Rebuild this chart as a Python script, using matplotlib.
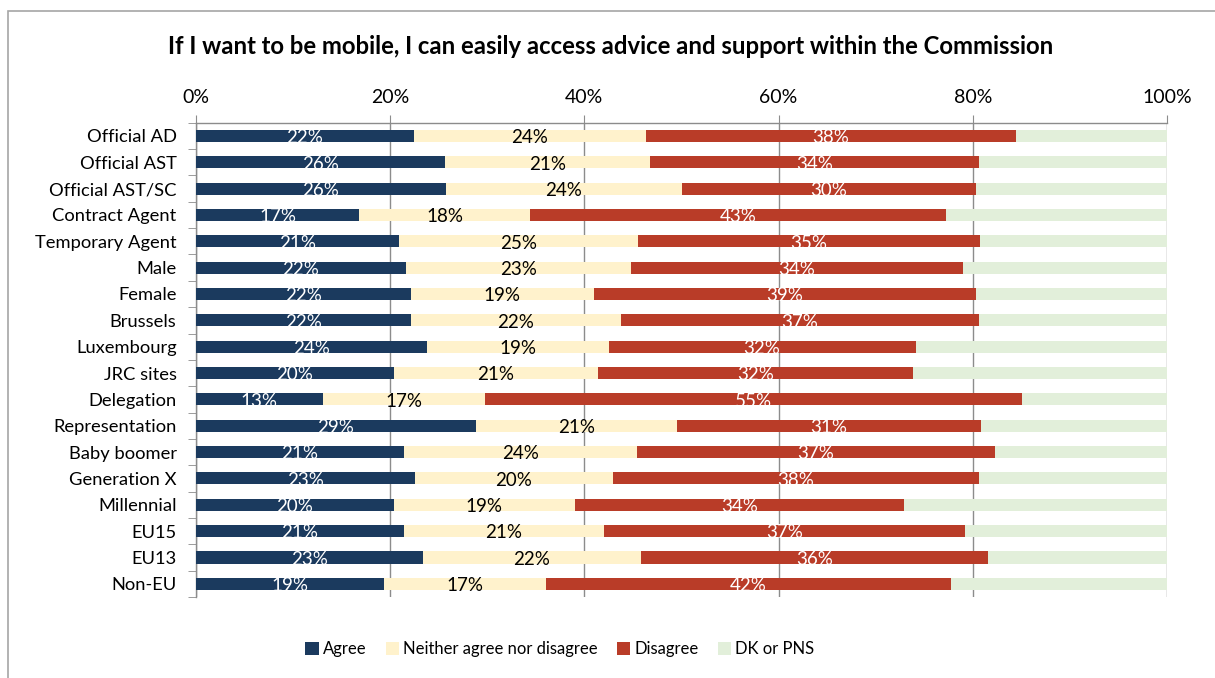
import matplotlib
matplotlib.use("Agg")
import matplotlib.pyplot as plt
from matplotlib.patches import Rectangle, Patch
from matplotlib.ticker import FixedLocator, PercentFormatter
import numpy as np

plt.rcParams['font.family'] = ['Lato', 'DejaVu Sans']

categories = [
    "Official AD", "Official AST", "Official AST/SC", "Contract Agent",
    "Temporary Agent", "Male", "Female", "Brussels", "Luxembourg",
    "JRC sites", "Delegation", "Representation", "Baby boomer",
    "Generation X", "Millennial", "EU15", "EU13", "Non-EU",
]
agree    = [22.4, 25.6, 25.75, 16.8, 20.9, 21.6, 22.1, 22.1, 23.8, 20.4, 13.05, 28.8, 21.4, 22.6, 20.4, 21.4, 23.4, 19.4]
neither  = [23.9, 21.2, 24.25, 17.6, 24.6, 23.2, 18.9, 21.7, 18.7, 21.0, 16.75, 20.76, 24.0, 20.3, 18.6, 20.6, 22.4, 16.6]
disagree = [38.2, 33.8, 30.3, 42.8, 35.2, 34.2, 39.3, 36.8, 31.6, 32.45, 55.3, 31.24, 36.9, 37.7, 33.9, 37.2, 35.8, 41.8]
dk_pns   = [15.5, 19.4, 19.7, 22.8, 19.3, 21.0, 19.7, 19.4, 25.9, 26.15, 14.9, 19.2, 17.7, 19.4, 27.1, 20.8, 18.4, 22.2]

series = [
    ("Agree", agree, "#1b3a5e", "white"),
    ("Neither agree nor disagree", neither, "#fff2cc", "black"),
    ("Disagree", disagree, "#b93c28", "white"),
    ("DK or PNS", dk_pns, "#e2efda", None),
]

W, H = 1215, 678
fig = plt.figure(figsize=(W / 100, H / 100), dpi=100)

# chart-area frame
fig.patches.append(Rectangle((8 / W, -0.1), 1.2, 1 - 11 / H + 0.1,
                             transform=fig.transFigure, fill=False,
                             edgecolor="#a6a6a6", linewidth=1.2))

ax = fig.add_axes([196 / W, 1 - 597 / H, (1167 - 196) / W, (597 - 122.7) / H])

y = np.arange(len(categories))
left = np.zeros(len(categories))
for name, vals, color, tcolor in series:
    vals = np.array(vals)
    ax.barh(y, vals, left=left, height=0.46, color=color, label=name,
            zorder=3, linewidth=0)
    if tcolor is not None:
        for yi, (l, v) in enumerate(zip(left, vals)):
            ax.text(l + v / 2, yi + 0.07, f"{v:.0f}%", ha="center", va="center",
                    color=tcolor, fontsize=13.5, zorder=4)
    left = left + vals

ax.set_xlim(0, 100)
ax.set_ylim(len(categories) - 0.5, -0.5)

ax.xaxis.tick_top()
ax.xaxis.set_major_locator(FixedLocator([0, 20, 40, 60, 80, 100]))
ax.xaxis.set_major_formatter(PercentFormatter(decimals=0))
ax.tick_params(axis="x", which="major", direction="out", length=6,
               color="#8c8c8c", pad=6, labelsize=14)
ax.grid(axis="x", color="#8c8c8c", linewidth=1, zorder=0)

ax.set_yticks(y)
ax.set_yticklabels(categories)
ax.yaxis.set_minor_locator(FixedLocator(np.arange(-0.5, len(categories), 1)))
ax.tick_params(axis="y", which="major", length=0, pad=14, labelsize=13.2)
ax.tick_params(axis="y", which="minor", direction="out", length=6,
               color="#8c8c8c")

for s in ("bottom", "right"):
    ax.spines[s].set_visible(False)
for s in ("top", "left"):
    ax.spines[s].set_color("#8c8c8c")
    ax.spines[s].set_linewidth(1)

fig.text(611 / W, 1 - 47 / H,
         "If I want to be mobile, I can easily access advice and support within the Commission",
         ha="center", va="center", fontsize=17.2, fontweight="bold")

handles = [Patch(facecolor=c, edgecolor="none", label=n) for n, _, c, _ in series]
fig.legend(handles=handles, loc="center", ncol=4,
           bbox_to_anchor=(560 / W, 1 - 649 / H), frameon=False,
           fontsize=12, handlelength=0.8, handleheight=0.8,
           handletextpad=0.25, columnspacing=1.15)

fig.savefig("out.png", dpi=100)
